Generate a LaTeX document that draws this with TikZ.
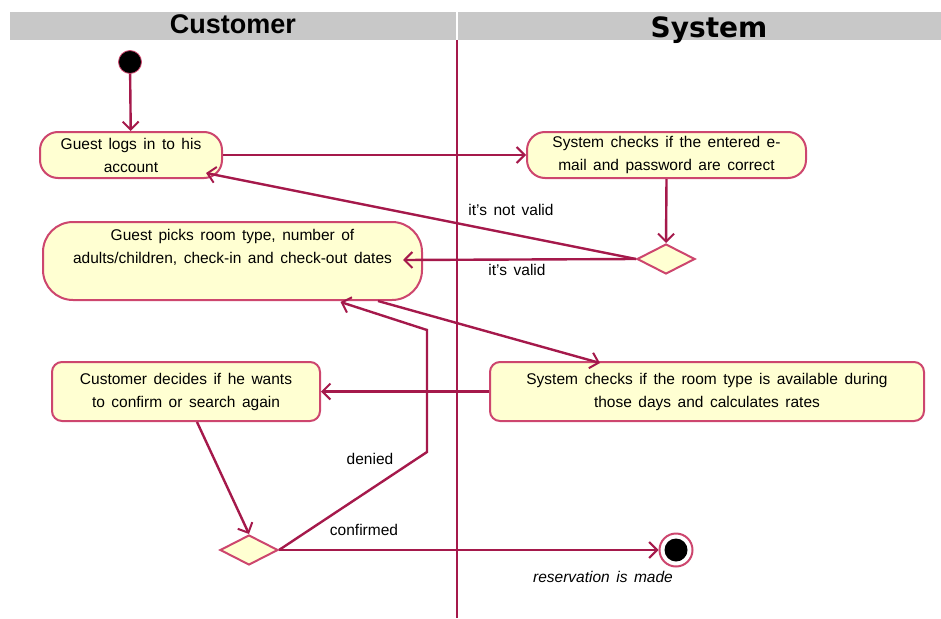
\documentclass[tikz,border=0pt]{standalone}
\usepackage{fontspec}
\setmainfont{Liberation Sans}
\newfontfamily\headfont{DejaVu Sans}
\usetikzlibrary{arrows.meta,shapes.geometric,calc}

\definecolor{flowline}{RGB}{165,25,75}
\definecolor{boxedge}{RGB}{205,70,110}
\definecolor{boxfill}{RGB}{255,255,210}
\definecolor{laneband}{RGB}{200,200,200}

% body text: slightly loose word spacing
\newcommand{\bodyfont}{\fontsize{15.5}{23}\selectfont\spaceskip=6.5pt plus 1pt minus 1pt\relax}

\begin{document}
\begin{tikzpicture}[x=1pt,y=-1pt,
  every node/.style={font=\bodyfont, text=black},
  act/.style={draw=boxedge, fill=boxfill, line width=2pt, align=center, inner sep=0pt},
  pill/.style={act, rounded corners=18pt},
  bigpill/.style={act, rounded corners=30pt},
  roundbox/.style={act, rounded corners=10pt},
  choice/.style={diamond, draw=boxedge, fill=boxfill, line width=2pt, inner sep=0pt,
                 minimum width=58pt, minimum height=30pt},
  flow/.style={draw=flowline, line width=2.4pt,
               -{Straight Barb[length=8pt,width=16pt,line width=2pt]}},
  guard/.style={font=\bodyfont},
]
\useasboundingbox (0,0) rectangle (941,618);

% swimlane header and divider
\fill[laneband] (10,12) rectangle (941,40);
\draw[white, line width=1.2pt] (457,12) -- (457,40);
\draw[flowline, line width=1.6pt] (457,40) -- (457,618);
\node (hcust) at (233,24) {\fontsize{27}{27}\selectfont\bfseries Customer};
\node (hsys)  at (709,30) {\headfont\fontsize{28}{28}\selectfont\bfseries System};

% start and end states
\node[circle, fill=black, draw=boxedge, line width=0.8pt, minimum size=23pt, inner sep=0pt] (start) at (130,62) {};
\node[circle, draw=boxedge, fill=white, line width=2pt, minimum size=33pt, inner sep=0pt] (stop) at (676,550) {};
\fill[black] (stop.center) circle (11.5pt);
\node[guard, font=\bodyfont\itshape] (stoplbl) at (603,577) {reservation is made};

% activities
\node[pill, minimum width=182pt, minimum height=46pt] (login) at (131,155)
  {Guest logs in to his\\account};
\node[pill, minimum width=279pt, minimum height=46pt] (verify) at (666.5,155)
  {System checks if the entered e-\\mail and password are correct};
\node[bigpill, minimum width=379pt, minimum height=78pt] (pick) at (232.5,261)
  {Guest picks room type, number of\\adults/children, check-in and check-out dates\\\strut};
\node[roundbox, minimum width=434pt, minimum height=59pt] (avail) at (707,391.5)
  {System checks if the room type is available during\\those days and calculates rates};
\node[roundbox, minimum width=268pt, minimum height=59pt] (decide) at (186,391.5)
  {Customer decides if he wants\\to confirm or search again};

% decisions
\node[choice] (valid) at (666,259) {};
\node[choice] (confirm) at (249,550) {};

% control flow
\draw[flow] (start) -- (login);
\draw[flow] (login.east) -- (verify.west);
\draw[flow] (verify.south) -- (valid.north);
\draw[flow] (valid.west) -- ($(login.south east)+(-17,-6)$);
\draw[flow] (valid.west) -- ($(pick.east)+(-20,-1)$);
\draw[flow] ($(pick.south)+(145.5,0)$) -- ($(avail.north)+(-107,2)$);
\draw[flow] (avail.west) -- (decide.east);
\draw[flow] ($(decide.south)+(11,0)$) -- (confirm.north);
\coordinate (bendlow) at (427,452);
\coordinate (bendhigh) at (427,330);
\draw[flow] (confirm.east) -- (bendlow) -- (bendhigh) -- ($(pick.south)+(108,1)$);
\draw[flow] (confirm.east) -- (stop.west);

% guard labels
\node[guard] (lnotvalid) at (511,210) {it's not valid};
\node[guard] (lvalid) at (517,270) {it's valid};
\node[guard] (ldenied) at (370,459) {denied};
\node[guard] (lconf) at (364,530) {confirmed};
\end{tikzpicture}
\end{document}
